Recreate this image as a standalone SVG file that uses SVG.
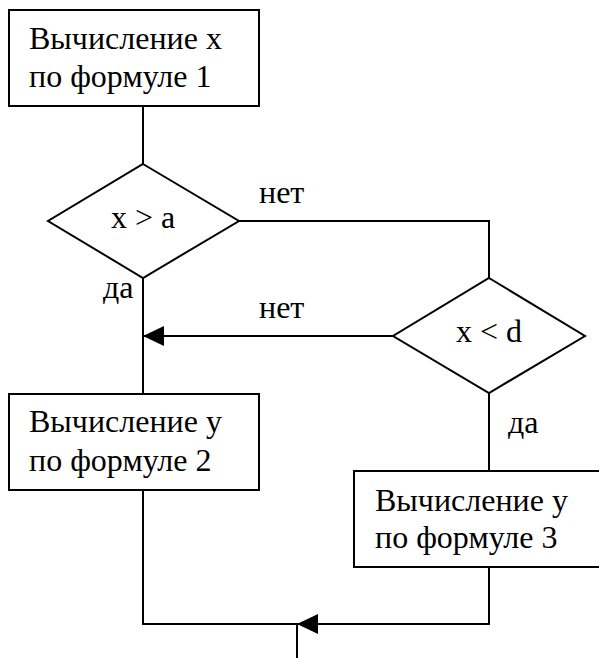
<svg xmlns="http://www.w3.org/2000/svg" width="599" height="658" viewBox="0 0 599 658">
<defs>
<style>
.s{fill:#fff;stroke:#000;stroke-width:2}
.l{fill:none;stroke:#000;stroke-width:2}
.t{font-family:'Liberation Serif','Times New Roman','DejaVu Serif',serif;font-size:32px;fill:#000}
</style>
<marker id="ah" markerWidth="21" markerHeight="20" refX="21" refY="10" orient="auto" markerUnits="userSpaceOnUse">
<path d="M0,0 L21,10 L0,20 Z" fill="#000"/>
</marker>
</defs>
<rect width="599" height="658" fill="#fff"/>
<g id="connectors">
<path class="l" d="M143,106 V164"/>
<path class="l" d="M239,221 H489 V278"/>
<path class="l" d="M143,278 V394"/>
<path class="l" d="M393,336 H143" marker-end="url(#ah)"/>
<path class="l" d="M489,393 V471"/>
<path class="l" d="M143,490 V624 H489"/>
<path class="l" d="M489,567 V624 H297" marker-end="url(#ah)"/>
<path class="l" d="M297,624 V658"/>
<text class="t" x="259" y="203">нет</text>
<text class="t" x="259" y="318">нет</text>
<text class="t" x="103" y="298">да</text>
<text class="t" x="508" y="433">да</text>
</g>
<g id="box1">
<rect class="s" x="9" y="10" width="250" height="96"/>
<text class="t" x="29" y="49">Вычисление х</text>
<text class="t" x="29" y="87">по формуле 1</text>
</g>
<g id="dec1">
<polygon class="s" points="143,164 239,221 143,278 48,221"/>
<text class="t" x="143" y="228" text-anchor="middle">x &gt; a</text>
</g>
<g id="dec2">
<polygon class="s" points="489,278 585,336 489,393 393,336"/>
<text class="t" x="489" y="342" text-anchor="middle">x &lt; d</text>
</g>
<g id="box2">
<rect class="s" x="9" y="394" width="250" height="96"/>
<text class="t" x="29" y="432">Вычисление у</text>
<text class="t" x="29" y="471">по формуле 2</text>
</g>
<g id="box3">
<rect class="s" x="354" y="471" width="260" height="96"/>
<text class="t" x="375" y="511">Вычисление у</text>
<text class="t" x="375" y="548">по формуле 3</text>
</g>
</svg>
